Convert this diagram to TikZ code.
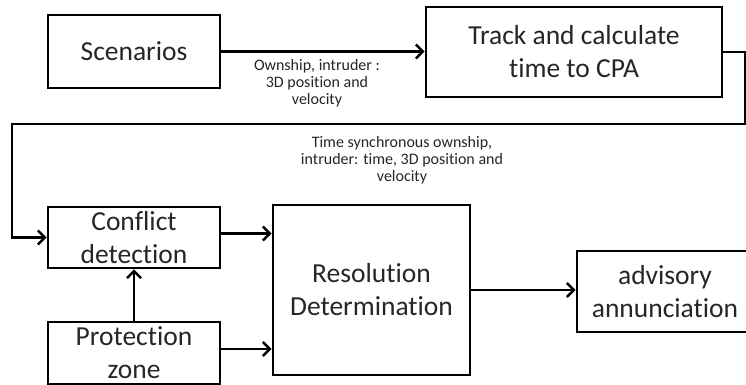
\documentclass[tikz,border=0pt]{standalone}
\usepackage{fontspec}
\setmainfont{Carlito}[Ligatures=NoCommon]
\usetikzlibrary{arrows.meta}

\begin{document}
\begin{tikzpicture}[x=1pt, y=-1pt, line width=2.6pt,
  blk/.style={draw, inner sep=0pt, align=center, text=black!85,
    font=\fontsize{27.5}{33}\selectfont},
  lbl/.style={align=center, text=black!85, font=\fontsize{16}{17}\selectfont},
  flow/.style={-{Straight Barb[length=7pt,width=14pt]}}]
\useasboundingbox (0,0) rectangle (746,385);
\clip (0,0) rectangle (746,385);
\fill[white] (0,0) rectangle (746,385);

\node[blk, minimum width=172pt, minimum height=73pt] (scen) at (134,51.5) {Scenarios};
\node[blk, minimum width=296pt, minimum height=90pt] (track) at (574,52)
  {Track and calculate\\time to CPA};
\node[blk, minimum width=172pt, minimum height=61pt] (conf) at (134,237.5)
  {Conflict\\detection};
\node[blk, minimum width=172pt, minimum height=62pt] (prot) at (134,353)
  {Protection\\zone};
\node[blk, minimum width=197pt, minimum height=170pt] (res) at (371.5,290)
  {Resolution\\Determination};
\node[blk, minimum width=176pt, minimum height=81pt] (adv) at (665,291.5)
  {advisory\\annunciation};

\node[lbl] (ownlbl) at (317,83) {Ownship, intruder :\\3D position and\\velocity};
\node[lbl] (synclbl) at (402,160)
  {Time synchronous ownship,\\intruder: time, 3D position and\\velocity};

\draw[flow] (scen.east) -- (scen.east -| track.west);
\draw[flow] (track.east) -- ++(22,0) |- (12,124) |- (conf.west);
\draw[flow] ([yshift=4pt]conf.east) -- ([yshift=4pt]conf.east -| res.west);
\draw[flow] ([yshift=4pt]prot.east) -- ([yshift=4pt]prot.east -| res.west);
\draw[flow] (prot.north) -- (conf.south);
\draw[flow] (res.east) -- (res.east -| adv.west);
\end{tikzpicture}
\end{document}
